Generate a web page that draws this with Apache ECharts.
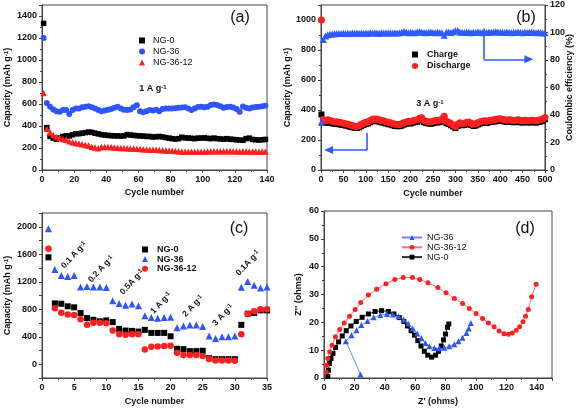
<!DOCTYPE html>
<html><head><meta charset="utf-8">
<script src="https://cdn.jsdelivr.net/npm/echarts@6/dist/echarts.min.js"></script>
<style>html,body{margin:0;padding:0;background:#fff}#c{width:578px;height:410px}</style>
</head><body><div id="c"></div>
<script>
// ---------- Panel (a): cycling at 1 A/g ----------
const A_CYC = [1,3,5,7,9,11,13,15,17,19,21,23,25,27,29,31,33,35,37,39,41,43,45,47,49,51,53,55,57,59,61,63,65,67,69,71,73,75,77,79,81,83,85,87,89,91,93,95,97,99,101,103,105,107,109,111,113,115,117,119,121,123,125,127,129,131,133,135,137,139];
const A_NG0 = [1333,385,305,290,280,290,305,310,310,320,330,330,335,340,345,342,335,328,322,318,315,312,310,310,308,310,322,318,315,312,310,308,305,305,300,302,305,300,295,290,285,282,285,298,292,290,288,285,290,290,292,288,285,290,285,282,280,285,280,278,275,272,270,285,290,278,275,272,275,278];
const A_NG36 = [1200,610,575,550,535,530,545,545,510,545,560,560,570,575,580,570,558,545,535,540,548,555,565,575,560,548,545,550,570,588,535,525,535,545,540,548,535,555,560,558,560,562,565,568,570,560,545,560,572,575,570,575,590,595,592,580,565,572,575,568,555,530,578,565,560,568,572,575,580,585];
const A_NG3612 = [700,375,340,318,300,290,282,275,262,252,245,240,235,228,222,212,205,198,210,212,210,208,205,203,200,200,198,196,195,193,190,188,186,185,185,183,182,180,178,176,174,172,170,168,167,166,165,165,165,166,167,168,170,170,170,171,170,170,171,170,170,169,170,169,168,168,168,167,168,168];

// ---------- Panel (b): long cycling at 3 A/g ----------
const B_CYC = [1,5,10,15,20,25,30,35,40,45,50,55,60,65,70,75,80,85,90,95,100,105,110,115,120,125,130,135,140,145,150,155,160,165,170,175,180,185,190,195,200,205,210,215,220,225,230,235,240,245,250,255,260,265,270,275,280,285,290,295,300,305,310,315,320,325,330,335,340,345,350,355,360,365,370,375,380,385,390,395,400,405,410,415,420,425,430,435,440,445,450,455,460,465,470,475,480,485,490,495,500];
const B_DIS = [1000,335,330,335,330,325,320,322,318,315,312,308,305,300,297,292,290,295,305,312,318,322,330,338,340,338,335,330,328,322,318,315,310,305,303,302,308,315,320,325,322,328,332,335,345,348,330,325,322,320,325,330,328,332,340,358,325,318,310,300,290,305,315,310,312,318,320,312,305,308,315,322,325,328,325,330,332,335,338,340,342,338,335,332,335,333,330,332,335,330,328,332,330,328,332,330,328,332,335,340,350];
const B_CHG = [370,318,315,318,315,312,308,308,305,302,300,296,293,288,285,282,280,284,292,300,306,310,318,325,328,326,322,318,315,310,306,303,298,294,292,292,296,303,308,312,310,316,320,322,330,334,318,313,310,308,312,318,316,320,326,340,312,306,298,290,280,293,302,298,300,305,308,300,294,296,303,310,313,316,313,318,320,322,325,328,330,326,323,320,323,321,318,320,323,318,316,320,318,316,320,318,316,320,323,328,338];
const B_EFF = [35,95,97.5,98.4,98.8,99,99.1,99.2,99.2,99.3,99.4,99.3,99.5,99.3,99.6,99.4,99.6,99.4,99.7,99.5,99.7,99.5,99.8,99.6,99.8,99.6,99.5,99.8,99.6,99.9,99.7,99.8,99.6,99.9,99.7,99.8,100.2,101,100.3,99.8,100.2,100,99.8,100.3,100.8,100.2,100,99.8,100.1,100.3,100,99.8,100.2,100,99.8,98,100.4,100.2,100,100.5,101.2,101.5,100.4,100.2,100,100.3,100.1,99.9,100.2,100,100.3,100.1,99.9,100.2,100,100.3,100.1,100.4,100.8,100.3,100.1,100.2,100,100.3,100.1,99.9,100.2,100,100.3,100.1,99.9,100.2,100,100.1,100.3,100,99.8,100.1,100,99.7,99.8];

// ---------- Panel (c): rate capability ----------
const C_CYC = [1,2,3,4,5,6,7,8,9,10,11,12,13,14,15,16,17,18,19,20,21,22,23,24,25,26,27,28,29,30,31,32,33,34,35];
const C_NG0 = [1555,885,880,843,828,745,672,647,625,637,613,515,490,485,475,500,456,456,456,407,225,220,191,191,196,88,74,74,74,74,573,735,745,784,784];
const C_NG36 = [1970,1380,1290,1275,1290,1125,1130,1125,1125,1115,925,885,860,875,850,705,680,670,680,685,530,555,570,570,550,410,375,400,400,410,1120,1205,1150,1110,1125];
const C_NG3612 = [1680,815,750,725,715,655,575,603,603,598,490,436,428,436,436,216,255,260,265,270,167,135,135,135,120,78,56,56,56,50,436,730,770,800,800];
const C_RATES = ['0.1 A g','0.2 A g','0.5A g','1 A g','2 A g','3 A g','0.1A g'];

// ---------- Panel (d): Nyquist plots ----------
const D36_X = [24,14.4,18.1,21.4,24.6,28.6,32.7,37.1,41.4,45.4,49.1,52.4,55.4,58.4,61.3,64.1,66.7,69.3,72.6,75.9,79.1,82.4,85.7,88.5,91.1,93.7,95.2,96.6];
const D36_Y = [1.3,13.2,15.4,17.2,19,20.5,21.8,22.6,23,22.8,22.2,21,19.6,17.8,16,14.3,12.6,11.4,10.8,10.7,10.9,11.4,12.1,13.2,14.5,16.2,17.8,19.8];
const D12_X = [1.4,1.6,2.5,3.8,5.3,7.5,10.3,13.3,16.8,20.5,24.2,29.2,34.7,40.8,46.6,52.1,58.2,63,68.4,74.9,80.3,85.8,91.2,95.6,100,104.3,108.2,111.9,115.2,118.4,121.3,123.9,126.5,128.7,130.9,132.6,134.4,136.6,139.6];
const D12_Y = [2.2,4.6,7,9.4,11.8,14.8,17.4,19.8,22.2,24.6,27.1,29.8,31.9,33.9,35.4,36.1,36.1,35.4,34.2,32.5,30.6,28.6,26.8,25,23.2,21.4,19.8,18.4,16.9,15.9,15.7,16.2,17.2,18.4,20.2,22.2,24.6,29.2,33.7];
const D0_X = [2.5,2.9,3.6,4.6,5.9,7.6,9.6,12,14.6,17.7,21.2,25.1,29.2,33.6,37.9,42.3,46,49.5,52.5,54.9,57.3,59.5,61.7,63.8,66,68.2,70.8,73.4,75.3,77.1,78.6,79.9,81.2,82.1];
const D0_Y = [0.6,2.8,5.2,7,8.8,11,13,15.1,17,18.7,20.3,21.8,23,23.9,24.2,23.9,23,21.7,20.3,18.7,17,15.4,13.4,11.5,9.6,8.2,7.5,8.2,9.6,11.5,13.7,15.8,18.2,19.4];

const FONT = '"Liberation Sans", Arial, Helvetica, sans-serif';
const AX = '#444';
const BLACK = '#000000', BLUE = '#2f55ff', RED = '#ff1f1f';

function zip(xs, ys){ return xs.map((x,i)=>[x, ys[i]]); }

const RICH = {
  b:{fontSize:9, fontWeight:'bold', fontFamily:FONT, color:'#111'},
  s:{fontSize:6, fontWeight:'bold', fontFamily:FONT, color:'#111', verticalAlign:'top', lineHeight:6}
};

function mkAxis(o, fmt, labelMargin){
  const a = {
    type:'value',
    axisLine:{show:true, onZero:false, lineStyle:{color:AX, width:1}},
    axisTick:{show:true, inside:false, length:3, lineStyle:{color:AX}},
    minorTick:{show:true, splitNumber:2, length:2, lineStyle:{color:AX}},
    splitLine:{show:false}, minorSplitLine:{show:false},
    axisLabel:{fontSize:9, fontWeight:'bold', color:'#111', fontFamily:FONT, margin: labelMargin || 5},
    nameLocation:'middle',
    nameMoveOverlap:false,
    nameTextStyle:{fontSize:9, fontWeight:'bold', color:'#111', fontFamily:FONT, rich:RICH}
  };
  if (fmt) a.axisLabel.formatter = fmt;
  return Object.assign(a, o);
}

const capName = '{b|Capacity (mAh g}{s|-1}{b|)}';

const grids = [
  {left:42, top:5, width:225, height:165},
  {left:321, top:5, width:224, height:165},
  {left:42, top:213, width:225, height:165},
  {left:324, top:211, width:228, height:167}
].map(g => Object.assign({show:true, borderColor:AX, borderWidth:1, backgroundColor:'transparent', containLabel:false, outerBoundsMode:'none'}, g));

const xAxes = [
  mkAxis({gridIndex:0, min:0, max:140, interval:20, name:'Cycle number', nameGap:18}),
  mkAxis({gridIndex:1, min:0, max:500, interval:50, name:'Cycle number', nameGap:19}),
  mkAxis({gridIndex:2, min:0, max:35, interval:5, name:'Cycle number', nameGap:19}),
  mkAxis({gridIndex:3, min:0, max:150, interval:20, name:"Z' (ohms)", nameGap:19}, v => v > 140 ? '' : v)
];
const yAxes = [
  mkAxis({gridIndex:0, min:0, max:1500, interval:200, name:capName, nameGap:30}, v => v > 1400 ? '' : v),
  mkAxis({gridIndex:1, min:0, max:1100, interval:200, name:capName, nameGap:29}, v => v > 1000 ? '' : v),
  mkAxis({gridIndex:1, position:'right', min:0, max:120, interval:20, name:'Coulombic efficiency (%)', nameGap:20}),
  mkAxis({gridIndex:2, min:-200, max:2200, interval:200, name:capName, nameGap:30, minorTick:{show:false}}, v => (v >= 0 && v % 400 === 0) ? v : ''),
  mkAxis({gridIndex:3, min:0, max:60, interval:10, name:"Z'' (ohms)", nameGap:21})
];

function sc(name, xi, yi, sym, size, color, data, extra){
  return Object.assign({name:name, type:'scatter', xAxisIndex:xi, yAxisIndex:yi, symbol:sym, symbolSize:size,
    itemStyle:{color:color, opacity:1}, emphasis:{disabled:true}, silent:true, data:data}, extra || {});
}
function ln(name, sym, size, color, lineColor, data){
  return {name:name, type:'line', xAxisIndex:3, yAxisIndex:4, symbol:sym, symbolSize:size, showSymbol:true,
    itemStyle:{color:color, opacity:1}, lineStyle:{color:lineColor, width:1}, emphasis:{disabled:true}, silent:true, data:data};
}

const ARROW_STYLE = {color:'#2d5bff', width:1.6, type:'solid'};
const series = [
  // (a)
  sc('a#NG-0', 0, 0, 'rect', 5.5, BLACK, zip(A_CYC, A_NG0)),
  sc('a#NG-36', 0, 0, 'circle', 6, BLUE, zip(A_CYC, A_NG36)),
  sc('a#NG-36-12', 0, 0, 'triangle', 6.5, RED, zip(A_CYC, A_NG3612)),
  // (b)
  sc('b#Charge', 1, 1, 'rect', 6, BLACK, zip(B_CYC, B_CHG)),
  sc('b#Discharge', 1, 1, 'circle', 7, RED, zip(B_CYC, B_DIS), {
    markLine:{silent:true, animation:false, symbol:['none','none'], label:{show:false}, lineStyle:ARROW_STYLE, emphasis:{disabled:true},
      data:[
        [{coord:[103,249]},{coord:[103,133]}],
        [{coord:[103,133]},{coord:[17,133], symbol:'triangle', symbolSize:[8,9]}]
      ]}
  }),
  sc('b#Eff', 1, 2, 'triangle', 7, '#2d5bff', zip(B_CYC, B_EFF), {
    markLine:{silent:true, animation:false, symbol:['none','none'], label:{show:false}, lineStyle:ARROW_STYLE, emphasis:{disabled:true},
      data:[
        [{coord:[363,103]},{coord:[363,80.5]}],
        [{coord:[363,80.5]},{coord:[464,80.5], symbol:'triangle', symbolSize:[8,9]}]
      ]}
  }),
  // (c)
  sc('c#NG-0', 2, 3, 'rect', 6, BLACK, zip(C_CYC, C_NG0)),
  sc('c#NG-36', 2, 3, 'triangle', 7, BLUE, zip(C_CYC, C_NG36)),
  sc('c#NG-36-12', 2, 3, 'circle', 6.5, RED, zip(C_CYC, C_NG3612)),
  // (d)
  ln('d#NG-0', 'rect', 5, BLACK, '#333', zip(D0_X, D0_Y)),
  ln('d#NG-36', 'triangle', 6, '#2f55f5', '#6d89f2', zip(D36_X, D36_Y)),
  ln('d#NG-36-12', 'circle', 5, '#ff2020', '#ff7070', zip(D12_X, D12_Y))
];

function lg(names, left, top, gap, bold, iw, ih, pad){
  return {data:names, orient:'vertical', left:left, top:top, itemGap:gap, itemWidth:iw, itemHeight:ih, padding:0,
    selectedMode:false, formatter: n => n.split('#')[1],
    textStyle:{fontSize:9, fontFamily:FONT, color:'#111', fontWeight: bold ? 'bold' : 'normal', padding:[0,0,0,pad]}};
}
const legends = [
  lg(['a#NG-0','a#NG-36','a#NG-36-12'], 139, 36, 2, false, 6, 6, 3),
  lg(['b#Charge','b#Discharge'], 412, 50, 2.5, true, 6, 6, 4),
  lg(['c#NG-0','c#NG-36','c#NG-36-12'], 142, 245, 0.6, true, 6, 6, 4),
  lg(['d#NG-36','d#NG-36-12','d#NG-0'], 401, 233, 0.8, false, 20, 6, 0)
];

function txt(x, y, text, rot, size){
  const sz = size || 9;
  return {type:'text', x:x, y:y, rotation: (rot||0) * Math.PI / 180, silent:true,
    style:{text:text, align:'center', verticalAlign:'middle', textAlign:'center', textVerticalAlign:'middle',
      rich:{b:{fontSize:sz, fontWeight:'bold', fontFamily:FONT, fill:'#111', color:'#111'},
            s:{fontSize:6, fontWeight:'bold', fontFamily:FONT, fill:'#111', color:'#111', verticalAlign:'top', lineHeight:6}}}};
}
function big(x, y, t){
  return {type:'text', x:x, y:y, silent:true,
    style:{text:t, font:'16px ' + FONT, fill:'#111', align:'center', verticalAlign:'middle', textAlign:'center', textVerticalAlign:'middle'}};
}
const RATE_POS = [[74,255],[101,269],[132,282],[161,303],[193,306],[223,315],[248,263]];
const graphics = [
  big(240,18,'(a)'), big(526,18,'(b)'), big(239,229,'(c)'), big(525,229,'(d)'),
  txt(153, 89, '{b|1 A g}{s|-1}'),
  txt(430, 104, '{b|3 A g}{s|-1}')
].concat(C_RATES.map((r,i) => txt(RATE_POS[i][0], RATE_POS[i][1], '{b|' + r + '}{s|-1}', 47, 8.5)));

const chart = echarts.init(document.getElementById('c'), null, {renderer:'canvas'});
chart.setOption({
  animation:false,
  backgroundColor:'#ffffff',
  grid:grids, xAxis:xAxes, yAxis:yAxes, series:series, legend:legends, graphic:graphics
});
</script></body></html>
